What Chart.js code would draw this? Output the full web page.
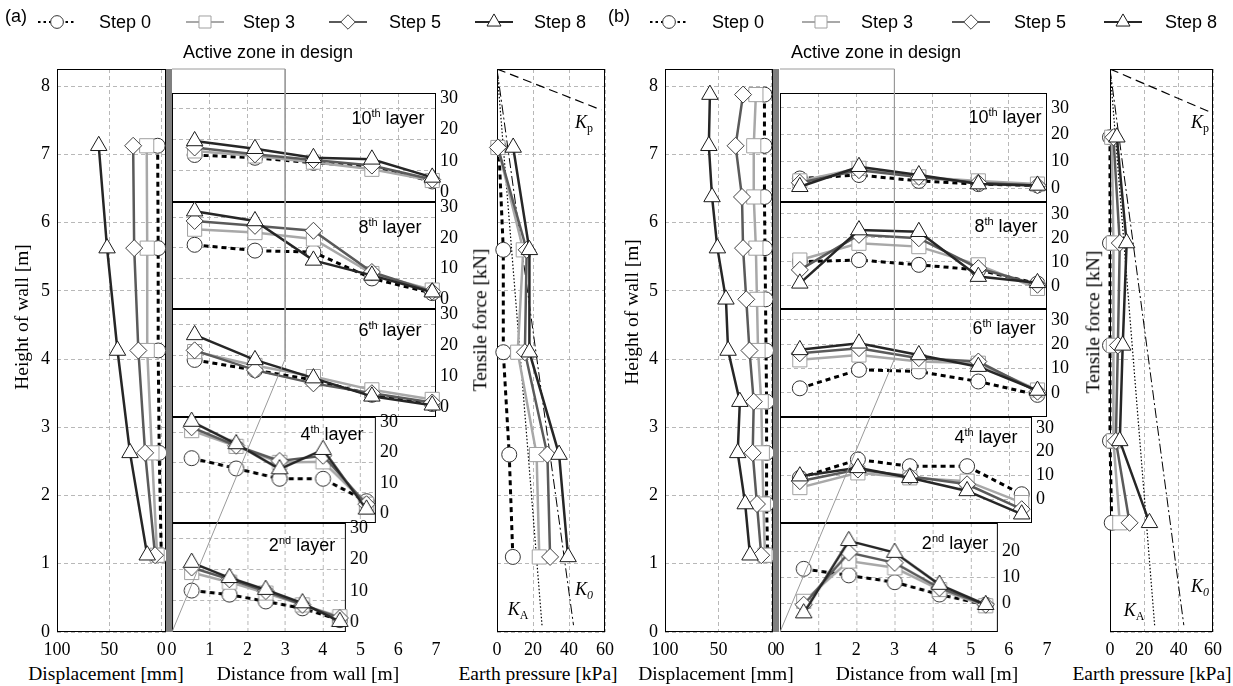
<!DOCTYPE html>
<html>
<head>
<meta charset="utf-8">
<title>Wall displacement, tensile force and earth pressure</title>
<script src="https://cdn.jsdelivr.net/npm/chart.js@4.4.1/dist/chart.umd.min.js"></script>
<style>
  body { margin: 0; background: #fff; }
  #fig { position: relative; width: 1233px; height: 686px; overflow: hidden; background: #fff; }
  canvas { position: absolute; }
  .lbl { position: absolute; white-space: nowrap; color: #000; line-height: 1; transform: translate(-50%, -50%); }
  .sans { font-family: "Liberation Sans", Arial, sans-serif; font-size: 18px; }
  .serif { font-family: "Liberation Serif", "Times New Roman", serif; font-size: 18px; }
  .title { font-size: 19.5px; }
  .rot { transform: translate(-50%, -50%) rotate(-90deg); }
  sup { font-size: 11px; vertical-align: 7px; line-height: 0; }
  sub { font-size: 12px; vertical-align: -4px; line-height: 0; }
</style>
</head>
<body>
<div id="fig"></div>
<script>
// ---------------- data ----------------
const steps = ['Step 0', 'Step 3', 'Step 5', 'Step 8'];

// tick labels
const heightTicks = [0, 1, 2, 3, 4, 5, 6, 7, 8];
const dispTicks = [100, 50, 0];
const distTicks = [0, 1, 2, 3, 4, 5, 6, 7];
const forceTicks = [0, 10, 20, 30];
const forceTicksB2 = [0, 10, 20];
const pressTicks = [0, 20, 40, 60];

// active zone in design (distance [m], height [m])
const zoneX = [0, 3, 3, 0];
const zoneY = [8.25, 8.25, 4.0, 0];

// ---- (a) ----
// displacement [mm] at height [m], rows = step 0, 3, 5, 8
const dispHeightA = [7.125, 5.625, 4.125, 2.625, 1.125];
const dispA = [
  [3.5, 3, 3, 2, 0],
  [14, 13.5, 13.5, 9, 4],
  [27, 26, 22, 15.5, 6],
  [60, 52, 42, 30, 13.5]
];
// tensile force [kN] at distance from wall [m]
const distL10A = [0.6, 2.2, 3.75, 5.3, 6.9];
const distL4A = [0.52, 1.7, 2.85, 4.0, 5.15];
const distL2A = [0.52, 1.52, 2.48, 3.45, 4.44];
const forceL10A = [
  [11.9, 11, 9.4, 8.3, 3.4],
  [13.2, 11.6, 9.6, 7.3, 3.7],
  [14.3, 12.1, 10.3, 8.5, 4],
  [16.4, 13.9, 11, 10.5, 4.7]
];
const forceL8A = [
  [17.8, 15.9, 15.4, 6.8, 2],
  [22.9, 21.8, 19.7, 8.4, 3],
  [25.6, 24, 22.4, 8.9, 2.5],
  [28.8, 25.6, 12.7, 7.8, 2.3]
];
const forceL6A = [
  [15.3, 12, 8.8, 4, 1],
  [18, 13.5, 9.9, 5.6, 2.5],
  [18.4, 12, 7.7, 4.5, 1.5],
  [23.4, 15.3, 9.4, 3.5, 0.6]
];
const forceL4A = [
  [18.2, 14.8, 11.4, 11.4, 4],
  [27.3, 22.1, 16.8, 17, 3],
  [28.4, 22.3, 17.3, 19, 3],
  [30.3, 22.9, 14.6, 21, 1.3]
];
const forceL2A = [
  [10.1, 8.8, 6.6, 4.4, 0.6],
  [15.9, 12.8, 9.3, 5.5, 1.7],
  [17.5, 13.7, 9.9, 5.5, 1.3],
  [19.1, 14.2, 10.4, 6.1, 0.1]
];
// earth pressure [kPa] at height [m]
const pressHeightA = [7.1, 5.6, 4.1, 2.6, 1.1];
const pressA = [
  [1, 3.5, 3.5, 6.8, 8.8],
  [0.5, 14.6, 11.5, 22, 23.5],
  [0.5, 16.5, 15.5, 28, 29.5],
  [9, 18, 18, 34.5, 39.5]
];
const kpA = { p: [0, 58], h: [8.25, 7.65] };
const k0A = { p: [0, 42.5], h: [8.25, 0.1] };
const kaA = { p: [0, 25], h: [8.25, 0.1] };

// ---- (b) ----
const dispHeightB = [7.875, 7.125, 6.375, 5.625, 4.875, 4.125, 3.375, 2.625, 1.875, 1.125];
const dispB = [
  [7, 7, 7, 6.5, 6, 5.5, 5, 5, 5, 4],
  [15, 17, 17, 15, 14, 13, 10, 9, 8, 6.5],
  [27, 34, 28, 27, 24, 21, 17, 18, 14, 10],
  [58, 59, 56, 51, 43, 41, 30, 32, 25, 20.5]
];
const distL10B = [0.52, 2.07, 3.64, 5.2, 6.75];
const distL4B = [0.52, 2.04, 3.4, 4.9, 6.33];
const distL2B = [0.62, 1.8, 3.0, 4.17, 5.38];
const forceL10B = [
  [3.6, 4.9, 2.7, 1.5, 1],
  [2.7, 7.4, 4.2, 2.7, 1.5],
  [2, 6.7, 4.2, 2, 1],
  [0.5, 8, 4.9, 1.5, 1]
];
const forceL8B = [
  [10.1, 10.8, 8.8, 6.7, 1],
  [10.8, 17.8, 16.4, 8.8, -1],
  [6.7, 21.3, 19.9, 7.4, 0.5],
  [1.1, 23.3, 22.6, 3.9, 1.3]
];
const forceL6B = [
  [1.9, 9.5, 8.8, 4.7, -0.8],
  [13.6, 15.6, 12.9, 12.2, 1.2],
  [16.3, 18.4, 14.3, 12.9, 0.5],
  [17.7, 20.4, 15.6, 10.8, 1]
];
const forceL4B = [
  [9, 16.7, 13.9, 13.9, 2.1],
  [4.9, 11.1, 9, 7.6, -1.4],
  [7.6, 12.5, 9.7, 6.3, -4.2],
  [9.7, 13.2, 9, 3.5, -6.3]
];
const forceL2B = [
  [13.3, 10.8, 8.2, 3.5, -0.4],
  [0.9, 16.3, 13.7, 5.4, -0.8],
  [-0.4, 19.5, 15.6, 6, -0.4],
  [-3.6, 24, 19.5, 7.3, -0.4]
];
const pressHeightB = [7.25, 5.7, 4.2, 2.8, 1.6];
const pressB = [
  [0, 0, 0, 0, 1],
  [1, 2, 2, 2, 5.7],
  [2, 5.7, 4.6, 3.4, 11.4],
  [4, 9.7, 7.4, 5.7, 23]
];
const kpB = { p: [0, 60], h: [8.25, 7.6] };
const k0B = { p: [0, 43], h: [8.25, 0.1] };
const kaB = { p: [0, 26], h: [8.25, 0.1] };

// ---------------- layout ----------------
const TOP = 69, BOT = 632;
const LAYER_TOP = [93, 202, 309, 417, 523];
const LAYER_BOT = [202, 309, 417, 523, 632];
const PANEL = {
  a: { dispL: 57, dispR: 166, dispMin: -4.5, dist0: 172, pxm: 37.75, epL: 497, epR: 605,
       layerMax: [7, 7, 7, 5.4, 4.6], yRange: [[-3.2, 31.8], [-3.2, 31.8], [-3.2, 31.8], [-3.2, 31.8], [-3.2, 31.8]],
       gridFromBottom: true, legendL: 0, legendR: 607,
       legendMarks: [57, 205, 348, 494], legendTexts: [99, 243, 389, 534] },
  b: { dispL: 665, dispR: 773, dispMin: -1, dist0: 780, pxm: 38.2, epL: 1110, epR: 1213,
       layerMax: [7, 7, 7, 6.6, 5.7], yRange: [[-5.2, 35.6], [-9.6, 35], [-9.9, 34.5], [-10, 34.6], [-10.8, 30.8]],
       gridFromBottom: false, legendL: 607, legendR: 1233,
       legendMarks: [62, 214, 364, 516], legendTexts: [105, 254, 407, 558] }
};

Chart.defaults.font.family = 'Liberation Serif';
Chart.defaults.color = '#000';

const fig = document.getElementById('fig');
const SERIF = { family: 'Liberation Serif', size: 18 };
const GRID = { color: '#b8b8b8', lineWidth: 1, drawTicks: false };
const DASH = { display: false, dash: [4, 3] };
const NOGRID = { display: false, drawTicks: false };
const NOBORDER = { display: false };

const stepStyle = [
  { borderColor: '#000', borderWidth: 3, borderDash: [5, 4], pointStyle: 'circle', pointRadius: 7.5, pointBorderColor: '#333' },
  { borderColor: '#a8a8a8', borderWidth: 2.5, pointStyle: 'rect', pointRadius: 10, pointBorderColor: '#a0a0a0' },
  { borderColor: '#5a5a5a', borderWidth: 2.5, pointStyle: 'rectRot', pointRadius: 8.5, pointBorderColor: '#404040' },
  { borderColor: '#262626', borderWidth: 2.5, pointStyle: 'triangle', pointRadius: 9.5, pointBorderColor: '#1a1a1a' }
];

function canvasAt(box, pad) {
  const c = document.createElement('canvas');
  const w = box.r - box.l + pad.l + pad.r;
  const h = box.b - box.t + pad.t + pad.b;
  c.width = w; c.height = h;
  c.style.left = (box.l - pad.l) + 'px';
  c.style.top = (box.t - pad.t) + 'px';
  c.style.width = w + 'px'; c.style.height = h + 'px';
  fig.appendChild(c);
  return c;
}
// fixed axis sizes, and no label overhang padding, so the plot box lands where we want it
const fixW = n => s => { s.width = n; s.paddingTop = 0; s.paddingBottom = 0; };
const fixH = n => s => { s.height = n; s.paddingLeft = 0; s.paddingRight = 0; };
const setTicks = arr => s => { s.ticks = arr.map(v => ({ value: v })); };

// rows of step values against a shared list of positions
function stepDatasets(rows, fixed, fixedIsX, clip) {
  return rows.map((vals, k) => Object.assign({
    label: steps[k],
    data: vals.map((v, i) => fixedIsX ? { x: fixed[i], y: v } : { x: v, y: fixed[i] }),
    pointBackgroundColor: '#fff', pointBorderWidth: 1, fill: false, tension: 0,
    order: 3 - k, clip: clip
  }, stepStyle[k]));
}

const framePlugin = {
  id: 'frame',
  beforeDatasetsDraw(chart) {
    const a = chart.chartArea, ctx = chart.ctx;
    ctx.save();
    ctx.strokeStyle = '#000';
    ctx.lineWidth = 1;
    ctx.strokeRect(Math.round(a.left) + 0.5, Math.round(a.top) + 0.5,
      Math.round(a.right - a.left) - 1, Math.round(a.bottom - a.top) - 1);
    ctx.restore();
  }
};
const wallPlugin = {
  id: 'wall',
  afterDatasetsDraw(chart) {
    const a = chart.chartArea, ctx = chart.ctx;
    ctx.save();
    ctx.fillStyle = '#7f7f7f';
    ctx.fillRect(a.right, a.top, 6, a.bottom - a.top);
    ctx.restore();
  }
};
const legendPlugin = {
  id: 'stepLegend',
  afterDraw(chart, args, opts) {
    const ctx = chart.ctx;
    chart.data.datasets.forEach((ds, k) => {
      const x = opts.marks[k], y = opts.y;
      ctx.save();
      ctx.strokeStyle = ds.borderColor;
      ctx.lineWidth = 2;
      ctx.setLineDash(k === 0 ? [2.5, 3] : []);
      ctx.beginPath(); ctx.moveTo(x - 19, y); ctx.lineTo(x + 19, y); ctx.stroke();
      ctx.setLineDash([]);
      ctx.fillStyle = '#fff';
      ctx.strokeStyle = ds.pointBorderColor;
      ctx.lineWidth = 1;
      Chart.helpers.drawPoint(ctx, { pointStyle: ds.pointStyle, radius: ds.pointRadius * 0.85, rotation: 0, borderWidth: 1 }, x, y);
      ctx.fillStyle = '#000';
      ctx.font = '18px "Liberation Sans"';
      ctx.textBaseline = 'middle';
      ctx.fillText(ds.label, opts.texts[k], y + 1);
      ctx.restore();
    });
  }
};

const baseOpts = () => ({
  responsive: false, animation: false, devicePixelRatio: 1, events: [],
  plugins: { legend: { display: false }, tooltip: { enabled: false } }
});
const pad = (l, r, t, b) => ({ autoPadding: false, padding: { left: l, right: r, top: t, bottom: b } });

function buildPanel(P, disp, dispH, layers, press, pressH, kp, k0, ka) {
  // legend strip
  new Chart(canvasAt({ l: P.legendL, t: 0, r: P.legendR, b: 40 }, { l: 0, r: 0, t: 0, b: 0 }), {
    type: 'line',
    data: { datasets: stepDatasets([[], [], [], []], [], true, false) },
    options: Object.assign(baseOpts(), {
      layout: pad(0, 0, 0, 0),
      scales: { x: { display: false }, y: { display: false } },
      plugins: { legend: { display: false }, tooltip: { enabled: false },
        stepLegend: { y: 22, marks: P.legendMarks, texts: P.legendTexts } }
    }),
    plugins: [legendPlugin]
  });

  // displacement
  new Chart(canvasAt({ l: P.dispL, t: TOP, r: P.dispR, b: BOT }, { l: 50, r: 8, t: 5, b: 28 }), {
    type: 'line',
    data: { datasets: stepDatasets(disp, dispH, false, undefined) },
    options: Object.assign(baseOpts(), {
      layout: pad(0, 8, 5, 0),
      scales: {
        x: { type: 'linear', reverse: true, min: P.dispMin, max: 100, afterBuildTicks: setTicks(dispTicks),
             ticks: { font: SERIF, padding: 7, autoSkip: false, maxRotation: 0 }, grid: GRID, border: DASH, afterFit: fixH(28) },
        y: { type: 'linear', min: 0, max: 8.25, afterBuildTicks: setTicks(heightTicks),
             ticks: { font: SERIF, padding: 7, autoSkip: false }, grid: GRID, border: DASH, afterFit: fixW(50) }
      }
    }),
    plugins: [framePlugin, wallPlugin]
  });

  // tensile force in each layer
  layers.forEach((L, i) => {
    const yr = P.yRange[i];
    const xmax = P.layerMax[i];
    const box = { l: P.dist0, r: P.dist0 + P.pxm * xmax, t: LAYER_TOP[i], b: LAYER_BOT[i] };
    const vLines = [1, 2, 3, 4, 5, 6].filter(v => v < xmax);
    const scales = {
      x: { type: 'linear', min: 0, max: xmax, afterBuildTicks: setTicks(vLines),
           ticks: { display: false }, grid: GRID, border: DASH, afterFit: fixH(0) },
      y: { type: 'linear', position: 'right', min: yr[0], max: yr[1], afterBuildTicks: setTicks(L.ticks),
           ticks: { font: SERIF, padding: 4, autoSkip: false }, grid: P.gridFromBottom ? NOGRID : GRID,
           border: P.gridFromBottom ? NOBORDER : DASH, afterFit: fixW(32) }
    };
    if (P.gridFromBottom) {
      scales.yg = { type: 'linear', position: 'left', min: 0, max: yr[1] - yr[0], afterBuildTicks: setTicks([10, 20, 30]),
                    ticks: { display: false }, grid: GRID, border: DASH, afterFit: fixW(0) };
    }
    new Chart(canvasAt(box, { l: 6, r: 32, t: 8, b: 8 }), {
      type: 'line',
      data: { datasets: stepDatasets(L.force, L.dist, true, false) },
      options: Object.assign(baseOpts(), {
        layout: pad(6, 0, 8, 8),
        scales: scales
      }),
      plugins: [framePlugin]
    });
  });

  // earth pressure
  const kSets = [
    { data: kp.p.map((p, i) => ({ x: p, y: kp.h[i] })), borderColor: '#000', borderWidth: 1.2, borderDash: [9, 5], pointRadius: 0, order: 10 },
    { data: k0.p.map((p, i) => ({ x: p, y: k0.h[i] })), borderColor: '#000', borderWidth: 1, borderDash: [10, 3, 2, 3], pointRadius: 0, order: 10 },
    { data: ka.p.map((p, i) => ({ x: p, y: ka.h[i] })), borderColor: '#000', borderWidth: 1.2, borderDash: [1.5, 2], pointRadius: 0, order: 10 }
  ];
  new Chart(canvasAt({ l: P.epL, t: TOP, r: P.epR, b: BOT }, { l: 10, r: 15, t: 5, b: 28 }), {
    type: 'line',
    data: { datasets: kSets.concat(stepDatasets(press, pressH, false, false)) },
    options: Object.assign(baseOpts(), {
      layout: pad(10, 15, 5, 0),
      scales: {
        x: { type: 'linear', min: 0, max: 60, afterBuildTicks: setTicks(pressTicks),
             ticks: { font: SERIF, padding: 7, autoSkip: false, maxRotation: 0 }, grid: GRID, border: DASH, afterFit: fixH(28) },
        y: { type: 'linear', min: 0, max: 8.25, afterBuildTicks: setTicks(heightTicks),
             ticks: { display: false }, grid: GRID, border: DASH, afterFit: fixW(0) }
      }
    }),
    plugins: [framePlugin]
  });

  // distance axis + active zone outline, on top
  new Chart(canvasAt({ l: P.dist0, t: TOP, r: P.dist0 + P.pxm * 7, b: BOT }, { l: 10, r: 10, t: 5, b: 28 }), {
    type: 'line',
    data: { datasets: [{ data: zoneX.map((x, i) => ({ x: x, y: zoneY[i] })), borderColor: '#9a9a9a', borderWidth: 1, pointRadius: 0, clip: false }] },
    options: Object.assign(baseOpts(), {
      layout: pad(10, 10, 5, 0),
      scales: {
        x: { type: 'linear', min: 0, max: 7, afterBuildTicks: setTicks(distTicks),
             ticks: { font: SERIF, padding: 7, autoSkip: false, maxRotation: 0 }, grid: NOGRID, border: NOBORDER, afterFit: fixH(28) },
        y: { display: false, min: 0, max: 8.25 }
      }
    })
  });
}

buildPanel(PANEL.a, dispA, dispHeightA, [
  { force: forceL10A, dist: distL10A, ticks: forceTicks },
  { force: forceL8A, dist: distL10A, ticks: forceTicks },
  { force: forceL6A, dist: distL10A, ticks: forceTicks },
  { force: forceL4A, dist: distL4A, ticks: forceTicks },
  { force: forceL2A, dist: distL2A, ticks: forceTicks }
], pressA, pressHeightA, kpA, k0A, kaA);

buildPanel(PANEL.b, dispB, dispHeightB, [
  { force: forceL10B, dist: distL10B, ticks: forceTicks },
  { force: forceL8B, dist: distL10B, ticks: forceTicks },
  { force: forceL6B, dist: distL10B, ticks: forceTicks },
  { force: forceL4B, dist: distL4B, ticks: forceTicks },
  { force: forceL2B, dist: distL2B, ticks: forceTicksB2 }
], pressB, pressHeightB, kpB, k0B, kaB);

// ---------------- text ----------------
const texts = [
  ['(a)', 16, 16, 'sans'],
  ['(b)', 619, 16, 'sans'],
  ['Active zone in design', 268, 52, 'sans'],
  ['Active zone in design', 876, 52, 'sans'],
  ['10<sup>th</sup> layer', 388, 118, 'sans'],
  ['8<sup>th</sup> layer', 390, 227, 'sans'],
  ['6<sup>th</sup> layer', 390, 330, 'sans'],
  ['4<sup>th</sup> layer', 332, 434, 'sans'],
  ['2<sup>nd</sup> layer', 302, 545, 'sans'],
  ['10<sup>th</sup> layer', 1005, 117, 'sans'],
  ['8<sup>th</sup> layer', 1006, 226, 'sans'],
  ['6<sup>th</sup> layer', 1004, 328, 'sans'],
  ['4<sup>th</sup> layer', 986, 437, 'sans'],
  ['2<sup>nd</sup> layer', 955, 543, 'sans'],
  ['Displacement [mm]', 106, 674, 'serif title'],
  ['Distance from wall [m]', 308, 674, 'serif title'],
  ['Earth pressure [kPa]', 538, 674, 'serif title'],
  ['Displacement [mm]', 716, 674, 'serif title'],
  ['Distance from wall [m]', 927, 674, 'serif title'],
  ['Earth pressure [kPa]', 1152, 674, 'serif title'],
  ['Height of wall [m]', 22, 317, 'serif title rot'],
  ['Height of wall [m]', 632, 312, 'serif title rot'],
  ['Tensile force [kN]', 480, 320, 'serif title rot'],
  ['Tensile force [kN]', 1093, 322, 'serif title rot'],
  ['<i>K</i><sub>p</sub>', 584, 122, 'serif'],
  ['<i>K<sub>0</sub></i>', 584, 589, 'serif'],
  ['<i>K</i><sub>A</sub>', 518, 609, 'serif'],
  ['<i>K</i><sub>p</sub>', 1200, 122, 'serif'],
  ['<i>K<sub>0</sub></i>', 1200, 586, 'serif'],
  ['<i>K</i><sub>A</sub>', 1134, 610, 'serif']
];
texts.forEach(t => {
  const d = document.createElement('div');
  d.className = 'lbl ' + t[3];
  d.innerHTML = t[0];
  d.style.left = t[1] + 'px';
  d.style.top = t[2] + 'px';
  fig.appendChild(d);
});
</script>
</body>
</html>
